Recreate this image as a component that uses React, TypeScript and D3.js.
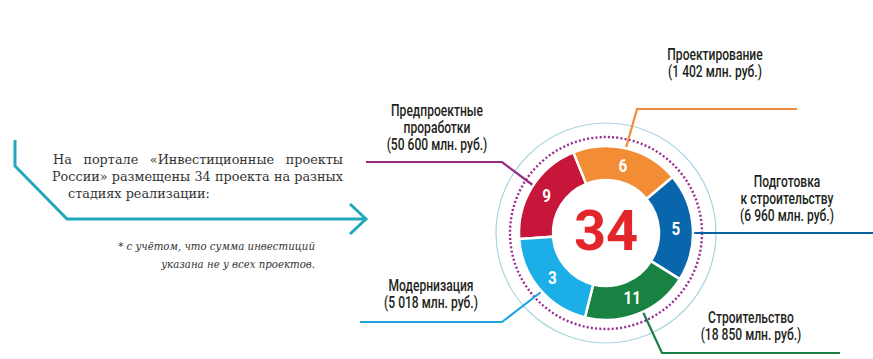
import React, { useEffect, useRef } from "react";
import * as d3 from "d3";

const stageNames: string[][] = [
  ["Предпроектные", "проработки"],
  ["Проектирование"],
  ["Подготовка", "к строительству"],
  ["Строительство"],
  ["Модернизация"],
];
const projectCounts: number[] = [9, 6, 5, 11, 3];
const investments: string[] = ["50 600", "1 402", "6 960", "18 850", "5 018"];
const totalProjects = "34";
const introLines: string[] = [
  "На портале «Инвестиционные проекты",
  "России» размещены 34 проекта на разных",
  "стадиях реализации:",
];
const footnoteLines: string[] = [
  "* с учётом, что сумма инвестиций",
  "указана не у всех проектов.",
];

// layout / style (not data)
const W = 873, H = 359;
const cx = 606, cy = 233;
const segColors = ["#C8163A", "#F28C35", "#0A66AC", "#188243", "#1CAEE6"];
const leaderColors = ["#962A80", "#EE8A3A", "#0A64A4", "#1A7F46", "#1FA6DF"];
const leaderPts: [number, number][][] = [
  [[366, 162], [502, 162], [534, 186]],
  [[797, 109], [637, 109], [626, 148]],
  [[873, 233], [690, 233]],
  [[643, 312], [662, 353], [840, 353]],
  [[541, 292], [502, 322], [360, 322]],
];
const labelPos: [number, number][] = [
  [437, 116],
  [715, 60],
  [787, 187],
  [751, 323],
  [431, 291],
];
const LABEL_SX = 0.755;

export default function App() {
  const ref = useRef<SVGSVGElement>(null);
  useEffect(() => {
    const svg = d3.select(ref.current);
    svg.selectAll("*").remove();

    // teal arrow
    const line = d3.line();
    svg.append("path")
      .attr("d", line([[15, 140], [15, 166], [67, 219], [365, 219]]))
      .attr("fill", "none").attr("stroke", "#23A8BB").attr("stroke-width", 3);
    svg.append("path")
      .attr("d", line([[350, 204], [366, 219], [350, 234]]))
      .attr("fill", "none").attr("stroke", "#23A8BB").attr("stroke-width", 3);

    // intro paragraph (justified)
    const intro = svg.append("g").attr("font-family", "'DejaVu Serif', serif")
      .attr("font-size", 12.8).attr("fill", "#333");
    const introLayout = [
      { x0: 53, x1: 343, y: 164, justify: true },
      { x0: 52, x1: 343, y: 181, justify: true },
      { x0: 68, x1: 343, y: 198, justify: false },
    ];
    introLines.forEach((txt, i) => {
      const L = introLayout[i];
      if (!L.justify) {
        intro.append("text").attr("x", L.x0).attr("y", L.y).text(txt);
        return;
      }
      const words = txt.split(" ");
      const nodes = words.map((w) => intro.append("text").attr("y", L.y).text(w));
      const widths = nodes.map((n) => (n.node() as SVGTextElement).getComputedTextLength());
      const sum = d3.sum(widths);
      const gap = (L.x1 - L.x0 - sum) / (words.length - 1);
      let x = L.x0;
      nodes.forEach((n, k) => { n.attr("x", x); x += widths[k] + gap; });
    });

    // footnote
    const fn = svg.append("g").attr("font-family", "'DejaVu Serif', serif")
      .attr("font-style", "italic").attr("font-size", 10.2).attr("fill", "#333")
      .attr("text-anchor", "end");
    footnoteLines.forEach((t, i) => fn.append("text").attr("x", 315).attr("y", 250 + i * 18).text(t));

    // rings
    svg.append("circle").attr("cx", cx).attr("cy", cy).attr("r", 110)
      .attr("fill", "none").attr("stroke", "#A8D5DE").attr("stroke-width", 1.2);
    svg.append("circle").attr("cx", cx).attr("cy", cy).attr("r", 96)
      .attr("fill", "none").attr("stroke", "#9C2B8F").attr("stroke-width", 2.4)
      .attr("stroke-dasharray", "2 2.2");

    // leaders
    leaderPts.forEach((pts, i) => {
      svg.append("path").attr("d", line(pts)).attr("fill", "none")
        .attr("stroke", leaderColors[i]).attr("stroke-width", 2.2);
    });

    // donut
    const deg = Math.PI / 180;
    const pie = d3.pie<number>().value(() => 1).sort(null)
      .startAngle(-94 * deg).endAngle(266 * deg);
    const arc = d3.arc<d3.PieArcDatum<number>>().innerRadius(53).outerRadius(87);
    const g = svg.append("g").attr("transform", `translate(${cx},${cy})`);
    const arcs = pie(projectCounts);
    g.selectAll("path.seg").data(arcs).enter().append("path")
      .attr("class", "seg").attr("d", arc as any)
      .attr("fill", (_d, i) => segColors[i]).attr("stroke", "#fff").attr("stroke-width", 2.5);
    g.selectAll("text.num").data(arcs).enter().append("text")
      .attr("class", "num")
      .attr("transform", (d) => { const [x, y] = arc.centroid(d); return `translate(${x},${y + 6.5}) scale(0.85,1)`; })
      .attr("text-anchor", "middle").attr("font-family", "Roboto, sans-serif")
      .attr("font-weight", 700).attr("font-size", 18).attr("fill", "#fff")
      .text((d) => String(d.data));

    g.append("text").attr("x", 0).attr("y", 17).attr("text-anchor", "middle")
      .attr("font-family", "Roboto, sans-serif").attr("font-weight", 700)
      .attr("font-size", 56).attr("fill", "#E3262B").text(totalProjects);

    // labels
    stageNames.forEach((names, i) => {
      const [lx, ly] = labelPos[i];
      const lines = [...names, `(${investments[i]} млн. руб.)`];
      const t = svg.append("g").attr("transform", `translate(${lx},${ly}) scale(${LABEL_SX},1)`);
      lines.forEach((s, k) => {
        t.append("text").attr("x", 0).attr("y", k * 17).attr("text-anchor", "middle")
          .attr("font-family", "Roboto, sans-serif").attr("font-size", 16).attr("font-weight", 500)
          .attr("fill", "#231F20").text(s);
      });
    });
  }, []);
  return (
    <svg ref={ref} width={W} height={H} style={{ position: "absolute", left: 0, top: 0, background: "#fff" }} />
  );
}
